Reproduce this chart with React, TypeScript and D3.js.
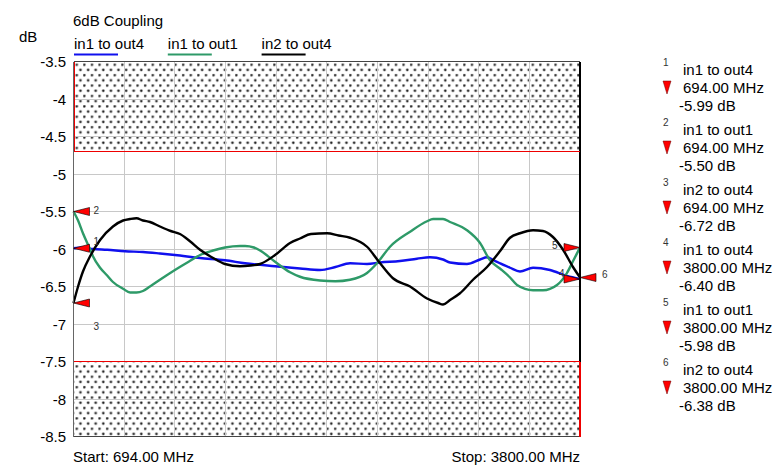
import * as d3 from 'd3';

// trace data: [MHz, dB]
const in1out4: [number, number][] = [
  [694, -5.99], [752, -5.98], [814, -6.0], [900, -6.01], [1010, -6.03], [1120, -6.04],
  [1224, -6.06], [1316, -6.08], [1470, -6.12], [1623, -6.15], [1746, -6.19], [1930, -6.23],
  [2083, -6.26], [2206, -6.28], [2300, -6.24], [2390, -6.19], [2494, -6.2], [2574, -6.18],
  [2696, -6.16], [2800, -6.13], [2880, -6.11], [2960, -6.14], [3003, -6.18], [3107, -6.2],
  [3187, -6.14], [3230, -6.11], [3270, -6.15], [3309, -6.19], [3371, -6.25], [3432, -6.3],
  [3512, -6.25], [3616, -6.28], [3720, -6.36], [3800, -6.4],
];

const in1out1: [number, number][] = [
  [694, -5.5], [722, -5.62], [752, -5.79], [795, -6.0], [814, -6.1], [857, -6.25],
  [899, -6.35], [936, -6.44], [998, -6.53], [1041, -6.58], [1080, -6.58], [1120, -6.56],
  [1163, -6.5], [1224, -6.41], [1316, -6.28], [1400, -6.17], [1470, -6.08], [1550, -6.02],
  [1623, -5.98], [1715, -5.96], [1746, -5.96], [1800, -5.98], [1838, -6.02], [1930, -6.17],
  [2022, -6.31], [2083, -6.37], [2206, -6.42], [2300, -6.43], [2390, -6.41], [2494, -6.32],
  [2555, -6.19], [2635, -5.97], [2758, -5.77], [2862, -5.63], [2899, -5.6], [2960, -5.6],
  [3003, -5.64], [3107, -5.75], [3187, -5.92], [3248, -6.15], [3309, -6.26], [3371, -6.38],
  [3414, -6.48], [3512, -6.55], [3573, -6.55], [3659, -6.48], [3720, -6.32], [3760, -6.15],
  [3800, -5.98],
];

const in2out4: [number, number][] = [
  [694, -6.72], [722, -6.5], [752, -6.3], [795, -6.1], [857, -5.88], [936, -5.7],
  [998, -5.62], [1041, -5.6], [1080, -5.59], [1120, -5.62], [1163, -5.64], [1224, -5.7],
  [1290, -5.76], [1347, -5.8], [1410, -5.9], [1470, -6.01], [1550, -6.12], [1623, -6.2],
  [1715, -6.23], [1780, -6.22], [1838, -6.2], [1930, -6.08], [2022, -5.92], [2083, -5.86],
  [2150, -5.8], [2249, -5.79], [2320, -5.82], [2390, -5.85], [2494, -5.97], [2574, -6.19],
  [2653, -6.39], [2758, -6.5], [2862, -6.66], [2930, -6.72], [2960, -6.74], [3003, -6.68],
  [3064, -6.59], [3144, -6.41], [3230, -6.24], [3309, -6.03], [3371, -5.85], [3432, -5.79],
  [3512, -5.75], [3573, -5.76], [3634, -5.84], [3696, -6.01], [3757, -6.24], [3800, -6.38],
];

const traceNames = ['in1 to out4', 'in1 to out1', 'in2 to out4'];
const traceColors = ['#1010ee', '#2e9a68', '#000000'];
const traces = [in1out4, in1out1, in2out4];

const yTicks = [-3.5, -4, -4.5, -5, -5.5, -6, -6.5, -7, -7.5, -8, -8.5];
const upperLimit = -4.7;
const lowerLimit = -7.5;
const freqStart = 694;
const freqStop = 3800;
const divisions = 10;

// marker id, trace index, MHz, dB
const markers: [number, number, number, number][] = [
  [1, 0, 694, -5.99],
  [2, 1, 694, -5.5],
  [3, 2, 694, -6.72],
  [4, 0, 3800, -6.4],
  [5, 1, 3800, -5.98],
  [6, 2, 3800, -6.38],
];

export default function App() {
  const W = 778;
  const H = 466;
  const left = 73.5, right = 580, top = 61.5, bottom = 436.5;

  const x = d3.scaleLinear().domain([freqStart, freqStop]).range([left, right]);
  const y = d3.scaleLinear().domain([-3.5, -8.5]).range([top, bottom]);

  const line = d3.line<[number, number]>()
    .x((d) => x(d[0]))
    .y((d) => y(d[1]))
    .curve(d3.curveMonotoneX);

  const gridF = d3.range(divisions + 1).map((i) => freqStart + (i * (freqStop - freqStart)) / divisions);
  const font = 'Arial, "Liberation Sans", sans-serif';

  // which way each marker flag extends from its point, and where its number sits
  const flagDir: Record<number, number> = { 1: 1, 2: 1, 3: 1, 4: -1, 5: -1, 6: 1 };
  const labelOff: Record<number, [number, number]> = {
    1: [20, -3], 2: [20, 2], 3: [20, 27], 4: [-21, -2], 5: [-28, 1], 6: [22, 0],
  };

  return (
    <svg width={W} height={H} style={{ position: 'absolute', left: 0, top: 0, background: '#fff' }}
      fontFamily={font}>
      <defs>
        <pattern id="dots" width={7.6} height={10.4} patternUnits="userSpaceOnUse" x={left + 2} y={top + 2}>
          <circle cx={1.2} cy={1.2} r={1.7} fill="#aaa" />
          <circle cx={1.2} cy={1.2} r={1.05} fill="#222" />
          <circle cx={5} cy={6.4} r={1.7} fill="#aaa" />
          <circle cx={5} cy={6.4} r={1.05} fill="#222" />
        </pattern>
      </defs>

      <text x={73} y={26} fontSize={15}>6dB Coupling</text>
      <text x={19} y={42} fontSize={15}>dB</text>
      {traceNames.map((n, i) => {
        const lx = 74 + i * 93.8;
        return (
          <g key={n}>
            <text x={lx} y={49} fontSize={15}>{n}</text>
            <line x1={lx} x2={lx + 44} y1={54.5} y2={54.5} stroke={traceColors[i]} strokeWidth={2} />
          </g>
        );
      })}

      {/* forbidden bands */}
      <rect x={left} y={top} width={right - left} height={y(upperLimit) - top} fill="url(#dots)" />
      <rect x={left} y={y(lowerLimit)} width={right - left} height={bottom - y(lowerLimit)} fill="url(#dots)" />

      {/* grid */}
      <g stroke="#c8c8c8" strokeWidth={1} shapeRendering="crispEdges">
        {gridF.slice(1, -1).map((f) => (
          <line key={f} x1={x(f)} x2={x(f)} y1={top} y2={bottom} />
        ))}
        {yTicks.slice(1, -1).map((t) => (
          <line key={t} x1={left} x2={right} y1={y(t)} y2={y(t)} />
        ))}
      </g>

      {yTicks.map((t) => (
        <text key={t} x={66} y={y(t) + 5.5} fontSize={15} textAnchor="end">{t}</text>
      ))}

      {traces.map((t, i) => (
        <path key={i} d={line(t) || ''} fill="none" stroke={traceColors[i]} strokeWidth={2.4}
          strokeLinejoin="round" />
      ))}

      {/* frame */}
      <g shapeRendering="crispEdges">
        <line x1={left} x2={right} y1={top} y2={top} stroke="#444" />
        <line x1={left} x2={right} y1={bottom} y2={bottom} stroke="#444" />
        <line x1={left} x2={left} y1={top} y2={bottom} stroke="#666" strokeWidth={1.5} />
        <line x1={right} x2={right} y1={top} y2={bottom} stroke="#000" strokeWidth={1.5} />
        <line x1={left} x2={right} y1={y(upperLimit)} y2={y(upperLimit)} stroke="#e00" strokeWidth={1.5} />
        <line x1={left + 1} x2={left + 1} y1={top} y2={y(upperLimit)} stroke="#e00" strokeWidth={1.5} />
        <line x1={left} x2={right} y1={y(lowerLimit)} y2={y(lowerLimit)} stroke="#e00" strokeWidth={1.5} />
        <line x1={right} x2={right} y1={y(lowerLimit)} y2={bottom} stroke="#e00" strokeWidth={1.5} />
      </g>

      {/* markers on the traces */}
      {markers.map(([id, , f, v]) => {
        const px = x(f);
        const py = y(v);
        const dir = flagDir[id];
        const [ox, oy] = labelOff[id];
        return (
          <g key={id}>
            <path d={`M${px},${py}L${px + dir * 16},${py - 4}L${px + dir * 16},${py + 4}Z`}
              fill="#f00" stroke="#000" strokeWidth={0.6} />
            <text x={px + ox} y={py + oy} fontSize={10} fill="#333">{id}</text>
          </g>
        );
      })}

      <text x={73} y={462} fontSize={15}>Start: {freqStart.toFixed(2)} MHz</text>
      <text x={580} y={462} fontSize={15} textAnchor="end">Stop: {freqStop.toFixed(2)} MHz</text>

      {/* marker table */}
      {markers.map(([id, ti, f, v], i) => {
        const by = 75 + i * 60;
        return (
          <g key={id}>
            <text x={663} y={by - 9} fontSize={10} fill="#333">{id}</text>
            <text x={683} y={by} fontSize={15}>{traceNames[ti]}</text>
            <path d={`M663,${by + 6}L671,${by + 6}L667,${by + 19}Z`} fill="#f00" stroke="#600" strokeWidth={0.5} />
            <text x={683} y={by + 18} fontSize={15}>{f.toFixed(2)} MHz</text>
            <text x={679} y={by + 36} fontSize={15}>{v.toFixed(2)} dB</text>
          </g>
        );
      })}
    </svg>
  );
}
